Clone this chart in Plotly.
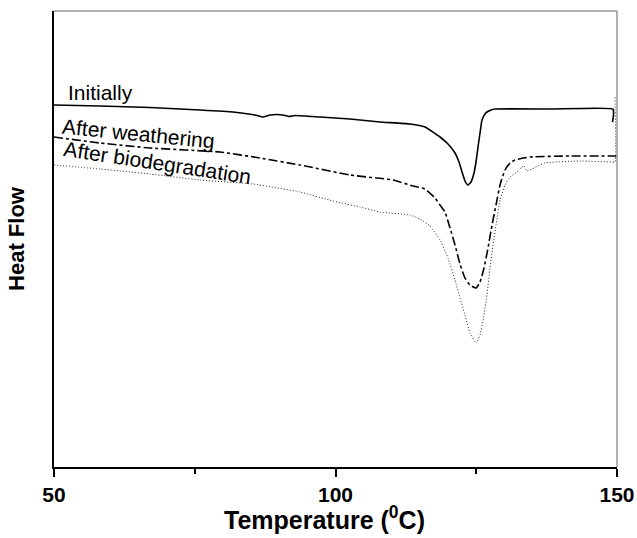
import plotly.graph_objects as go

# DSC heat-flow traces (arbitrary units) versus temperature in degrees C
temp_initial = [50.0, 58.17, 67.05, 75.93, 81.79, 85.70, 87.12, 88.37, 89.61, 90.68, 91.74,
                92.81, 97.25, 102.58, 107.90, 113.23, 115.90, 118.56, 119.98, 121.23, 121.94,
                122.47, 123.00, 123.53, 124.07, 124.60, 124.96, 125.31, 125.67, 126.02,
                126.55, 126.91, 127.62, 128.33, 138.10, 149.29, 149.38, 149.20]
hf_initial = [3.62, 3.61, 3.595, 3.57, 3.55, 3.52, 3.50, 3.52, 3.525, 3.52, 3.505,
              3.515, 3.50, 3.48, 3.45, 3.43, 3.40, 3.30, 3.23, 3.14, 3.05,
              2.95, 2.86, 2.82, 2.85, 2.94, 3.05, 3.20, 3.34, 3.47,
              3.53, 3.55, 3.57, 3.58, 3.58, 3.58, 3.52, 3.45]

temp_weathered = [50.0, 58.17, 67.05, 79.48, 86.59, 93.69, 102.58, 110.21, 113.77, 115.90,
                  117.67, 118.56, 119.45, 120.34, 121.23, 122.11, 123.00, 123.89, 124.96,
                  125.67, 126.38, 127.09, 127.80, 128.51, 129.22, 130.11, 131.00, 131.88,
                  134.55, 141.65, 150.0]
hf_weathered = [3.30, 3.24, 3.19, 3.15, 3.09, 3.02, 2.92, 2.87, 2.81, 2.78,
                2.69, 2.62, 2.55, 2.39, 2.22, 2.03, 1.89, 1.82, 1.79,
                1.85, 1.99, 2.19, 2.42, 2.62, 2.82, 2.97, 3.04, 3.07,
                3.10, 3.11, 3.11]

temp_biodegraded = [50.0, 58.17, 67.05, 75.93, 85.35, 93.69, 99.56, 104.35, 107.90, 113.23,
                    115.01, 116.79, 118.56, 119.98, 121.23, 122.11, 123.00, 123.89, 124.96,
                    125.67, 126.38, 126.91, 127.44, 127.98, 128.51, 129.22, 130.11, 131.00,
                    132.24, 132.95, 133.48, 134.01, 134.90, 137.21, 143.43, 149.11, 149.64,
                    149.64]
hf_biodegraded = [3.02, 2.98, 2.93, 2.87, 2.83, 2.75, 2.66, 2.60, 2.55, 2.52,
                  2.48, 2.41, 2.27, 2.09, 1.87, 1.69, 1.52, 1.34, 1.24,
                  1.32, 1.52, 1.72, 1.99, 2.22, 2.42, 2.67, 2.82, 2.90,
                  2.95, 2.99, 3.01, 2.96, 2.98, 3.04, 3.06, 3.05, 3.05,
                  3.70]

x_ticks = [50, 100, 150]

FONT = "Liberation Sans, Arial, sans-serif"

fig = go.Figure()
fig.add_trace(go.Scatter(x=temp_initial, y=hf_initial, mode="lines",
                         line=dict(color="black", width=1.6, shape="spline", smoothing=0.4),
                         name="Initially"))
fig.add_trace(go.Scatter(x=temp_weathered, y=hf_weathered, mode="lines",
                         line=dict(color="black", width=1.6, dash="dashdot",
                                   shape="spline", smoothing=0.4),
                         name="After weathering"))
fig.add_trace(go.Scatter(x=temp_biodegraded, y=hf_biodegraded, mode="lines",
                         line=dict(color="#222222", width=1, dash="1px,2px",
                                   shape="spline", smoothing=0.4),
                         name="After biodegradation"))

# curve labels
label_font = dict(family=FONT, size=21, color="black")
fig.add_annotation(x=58.26, y=3.75, text="Initially", showarrow=False,
                   font=label_font, xanchor="center", yanchor="middle")
fig.add_annotation(x=64.92, y=3.34, text="After weathering", showarrow=False,
                   font=label_font, textangle=5.6, xanchor="center", yanchor="middle")
fig.add_annotation(x=68.3, y=3.05, text="After biodegradation", showarrow=False,
                   font=label_font, textangle=8.6, xanchor="center", yanchor="middle")

# x-axis title set a little left of centre, below the tick labels
fig.add_annotation(x=0.481, y=-0.112, xref="paper", yref="paper",
                   text="Temperature (<sup>0</sup>C)", showarrow=False,
                   font=dict(family=FONT, size=25, color="black", weight="bold"),
                   xanchor="center", yanchor="middle")

# light frame on the top and right sides
fig.add_shape(type="line", xref="paper", yref="paper", x0=0, x1=1, y0=1, y1=1,
              line=dict(color="#999999", width=1.5))
fig.add_shape(type="line", xref="paper", yref="paper", x0=1, x1=1, y0=0, y1=1,
              line=dict(color="#999999", width=1.5))

fig.update_layout(
    width=637, height=538,
    margin=dict(l=54, r=20, t=11, b=71),
    paper_bgcolor="white", plot_bgcolor="white",
    showlegend=False,
    xaxis=dict(range=[50, 150], tickvals=x_ticks, ticktext=[str(v) for v in x_ticks],
               automargin=False,
               ticks="outside", ticklen=8, tickwidth=1.5, tickcolor="black",
               showline=True, linecolor="black", linewidth=1.5,
               showgrid=False, zeroline=False,
               tickfont=dict(family=FONT, size=21, color="black", weight="bold"),
               minor=dict(tickvals=[75, 125], ticks="outside", ticklen=5,
                          tickwidth=1.5, tickcolor="black")),
    yaxis=dict(range=[0, 4.56], showticklabels=False, ticks="",
               automargin=False,
               showline=True, linecolor="black", linewidth=1.5,
               showgrid=False, zeroline=False,
               title=dict(text="Heat Flow", standoff=22,
                          font=dict(family=FONT, size=22, color="black", weight="bold"))),
)

fig.write_html("out.html")
